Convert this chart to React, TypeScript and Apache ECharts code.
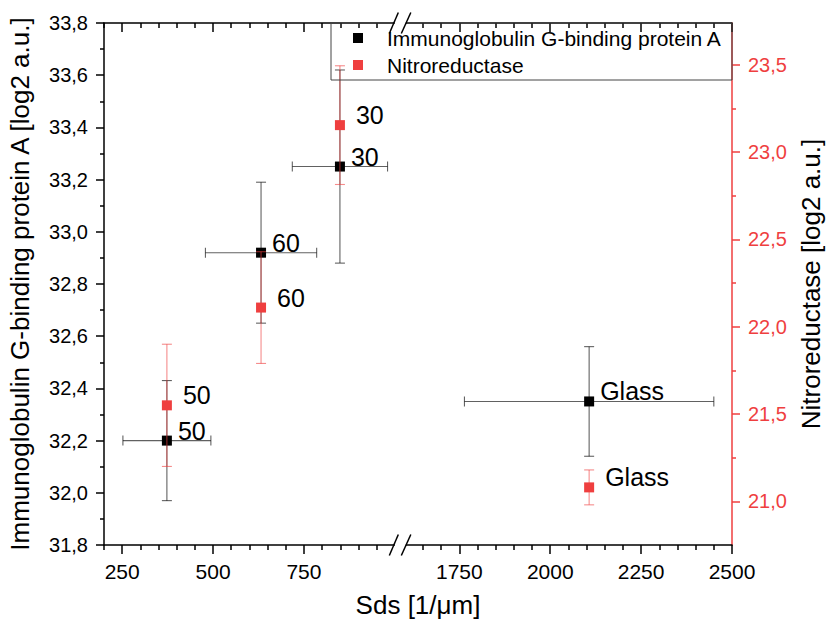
import React, { useEffect, useRef } from 'react';
import * as echarts from 'echarts';

// ---- axis break on x (Sds) ----
const BREAK_START = 1000;
const BREAK_END = 1600;
const BREAK_GAP = 27.5;

// ---- data ----
const sampleLabels = ['50', '60', '30', 'Glass'];
const sds = [373, 632, 849, 2107];
const sdsErr = [121, 153, 131, 343];
const iggValues = [32.2, 32.92, 33.25, 32.35];
const iggErr = [0.23, 0.27, 0.37, 0.21];
const nitroValues = [21.55, 22.11, 23.155, 21.08];
const nitroErr = [0.35, 0.32, 0.34, 0.1];

// ---- ticks ----
const xMajorTicks = [250, 500, 750, 1750, 2000, 2250, 2500];
const xMinorTicks = [200, 300, 350, 400, 450, 550, 600, 650, 700, 800, 850, 900, 950, 1650, 1700, 1800, 1850, 1900, 1950, 2050, 2100, 2150, 2200, 2300, 2350, 2400, 2450];
const leftMajorTicks = [31.8, 32.0, 32.2, 32.4, 32.6, 32.8, 33.0, 33.2, 33.4, 33.6, 33.8];
const leftMinorTicks = [31.9, 32.1, 32.3, 32.5, 32.7, 32.9, 33.1, 33.3, 33.5, 33.7];
const rightMajorTicks = [21.0, 21.5, 22.0, 22.5, 23.0, 23.5];
const rightMinorTicks = [21.25, 21.75, 22.25, 22.75, 23.25];

const SERIES_A = 'Immunoglobulin G-binding protein A';
const SERIES_B = 'Nitroreductase';
const RED = '#EF3F3F';
const FONT = 'Liberation Sans, Arial, sans-serif';

const tx = (v: number) => (v <= BREAK_START ? v : v - (BREAK_END - BREAK_START) + BREAK_GAP);
const inv = (t: number) => (t <= BREAK_START + BREAK_GAP / 2 ? t : t + (BREAK_END - BREAK_START) - BREAK_GAP);

const X_MIN = 200;
const X_MAX = tx(2500);
const fmtComma = (v: number) => v.toFixed(1).replace('.', ',');

function makeErrRender(withX: boolean, color: string) {
  return (params: any, api: any) => {
    const x = api.value(0);
    const y = api.value(1);
    const xlo = api.value(2);
    const xhi = api.value(3);
    const ylo = api.value(4);
    const yhi = api.value(5);
    const pLo = api.coord([x, ylo]);
    const pHi = api.coord([x, yhi]);
    const style = { stroke: color, lineWidth: 1.1 };
    const cap = 5;
    const children: any[] = [
      { type: 'line', shape: { x1: pLo[0], y1: pLo[1], x2: pHi[0], y2: pHi[1] }, style },
      { type: 'line', shape: { x1: pLo[0] - cap, y1: pLo[1], x2: pLo[0] + cap, y2: pLo[1] }, style },
      { type: 'line', shape: { x1: pHi[0] - cap, y1: pHi[1], x2: pHi[0] + cap, y2: pHi[1] }, style },
    ];
    if (withX) {
      const qLo = api.coord([xlo, y]);
      const qHi = api.coord([xhi, y]);
      children.push(
        { type: 'line', shape: { x1: qLo[0], y1: qLo[1], x2: qHi[0], y2: qHi[1] }, style },
        { type: 'line', shape: { x1: qLo[0], y1: qLo[1] - cap, x2: qLo[0], y2: qLo[1] + cap }, style },
        { type: 'line', shape: { x1: qHi[0], y1: qHi[1] - cap, x2: qHi[0], y2: qHi[1] + cap }, style },
      );
    }
    return { type: 'group', children };
  };
}

export default function App() {
  const ref = useRef<HTMLDivElement>(null);

  useEffect(() => {
    if (!ref.current) return;
    const chart = echarts.init(ref.current, undefined, { renderer: 'svg' });

    const blackPts = sds.map((s, i) => ({ name: sampleLabels[i], value: [tx(s), iggValues[i]] }));
    const redPts = sds.map((s, i) => ({ name: sampleLabels[i], value: [tx(s), nitroValues[i]] }));
    const blackErr = sds.map((s, i) => [tx(s), iggValues[i], tx(s - sdsErr[i]), tx(s + sdsErr[i]), iggValues[i] - iggErr[i], iggValues[i] + iggErr[i]]);
    const redErr = sds.map((s, i) => [tx(s), nitroValues[i], tx(s), tx(s), nitroValues[i] - nitroErr[i], nitroValues[i] + nitroErr[i]]);

    const axisBlack = { color: '#000', width: 1.5 };
    const axisRed = { color: RED, width: 1.5 };

    const baseX = { type: 'value', min: X_MIN, max: X_MAX, splitLine: { show: false } };
    const baseL = { type: 'value', min: 31.8, max: 33.8, splitLine: { show: false } };
    const baseR = { type: 'value', min: 20.75, max: 23.74, splitLine: { show: false } };

    const option: any = {
      animation: false,
      backgroundColor: '#fff',
      grid: { left: 104, right: 96, top: 23, bottom: 85, containLabel: false, outerBoundsMode: 'none' },
      legend: {
        data: [SERIES_A, SERIES_B],
        orient: 'vertical',
        left: 353,
        top: 23,
        padding: [3, 0, 3, 0],
        itemWidth: 10,
        itemHeight: 10,
        itemGap: 3,
        icon: 'rect',
        selectedMode: false,
        textStyle: { fontSize: 21, lineHeight: 24, color: '#000', fontFamily: FONT, padding: [0, 0, 0, 19] },
      },
      xAxis: [
        {
          ...baseX,
          position: 'bottom',
          axisLine: { lineStyle: axisBlack },
          axisTick: { customValues: xMajorTicks.map(tx), length: 9, lineStyle: axisBlack },
          axisLabel: {
            customValues: xMajorTicks.map(tx),
            formatter: (v: number) => String(Math.round(inv(v))),
            fontSize: 21, color: '#000', margin: 16, fontFamily: FONT,
          },
          name: 'Sds [1/μm]',
          nameLocation: 'middle',
          nameGap: 47,
          nameTextStyle: { fontSize: 26, color: '#000', fontFamily: FONT },
        },
        {
          ...baseX,
          position: 'bottom',
          axisLine: { show: false },
          axisTick: { customValues: xMinorTicks.map(tx), length: 5, lineStyle: axisBlack },
          axisLabel: { show: false },
        },
        {
          ...baseX,
          position: 'top',
          axisLine: { lineStyle: axisBlack },
          axisTick: { customValues: xMajorTicks.map(tx), length: 9, inside: true, lineStyle: axisBlack },
          axisLabel: { show: false },
        },
        {
          ...baseX,
          position: 'top',
          axisLine: { show: false },
          axisTick: { customValues: xMinorTicks.map(tx), length: 5, inside: true, lineStyle: axisBlack },
          axisLabel: { show: false },
        },
      ],
      yAxis: [
        {
          ...baseL,
          position: 'left',
          axisLine: { show: true, lineStyle: axisBlack },
          axisTick: { show: true, customValues: leftMajorTicks, length: 8, lineStyle: axisBlack },
          axisLabel: { customValues: leftMajorTicks, formatter: fmtComma, fontSize: 20, color: '#000', margin: 16, fontFamily: FONT },
          name: 'Immunoglobulin G-binding protein A [log2 a.u.]',
          nameLocation: 'middle',
          nameRotate: 90,
          nameGap: 71,
          nameTextStyle: { fontSize: 26, color: '#000', fontFamily: FONT },
        },
        {
          ...baseL,
          position: 'left',
          axisLine: { show: false },
          axisTick: { show: true, customValues: leftMinorTicks, length: 4, lineStyle: axisBlack },
          axisLabel: { show: false },
        },
        {
          ...baseR,
          position: 'right',
          axisLine: { show: true, lineStyle: axisRed },
          axisTick: { show: true, customValues: rightMajorTicks, length: 8, lineStyle: axisRed },
          axisLabel: { customValues: rightMajorTicks, formatter: fmtComma, fontSize: 20, color: RED, margin: 16, fontFamily: FONT },
          name: 'Nitroreductase [log2 a.u.]',
          nameLocation: 'middle',
          nameRotate: 90,
          nameGap: 65,
          nameTextStyle: { fontSize: 26, color: '#000', fontFamily: FONT },
        },
        {
          ...baseR,
          position: 'right',
          axisLine: { show: false },
          axisTick: { show: true, customValues: rightMinorTicks, length: 4, lineStyle: axisRed },
          axisLabel: { show: false },
        },
      ],
      series: [
        {
          name: 'igg-err',
          type: 'custom',
          xAxisIndex: 0,
          yAxisIndex: 0,
          z: 2,
          encode: { x: 0, y: 1 },
          renderItem: makeErrRender(true, 'rgba(0,0,0,0.62)'),
          data: blackErr,
          silent: true,
        },
        {
          name: SERIES_A,
          type: 'scatter',
          xAxisIndex: 0,
          yAxisIndex: 0,
          z: 3,
          symbol: 'rect',
          symbolSize: 10,
          itemStyle: { color: '#000', opacity: 1 },
          label: {
            show: true,
            position: 'right',
            distance: 6,
            offset: [0, -10],
            formatter: (p: any) => p.name,
            fontSize: 25,
            color: '#000',
            fontFamily: FONT,
          },
          data: blackPts,
        },
        {
          name: 'nitro-err',
          type: 'custom',
          xAxisIndex: 0,
          yAxisIndex: 2,
          z: 4,
          encode: { x: 0, y: 1 },
          renderItem: makeErrRender(false, 'rgba(239,63,63,0.6)'),
          data: redErr,
          silent: true,
        },
        {
          name: SERIES_B,
          type: 'scatter',
          xAxisIndex: 0,
          yAxisIndex: 2,
          z: 5,
          symbol: 'rect',
          symbolSize: 10,
          itemStyle: { color: RED, opacity: 1 },
          label: {
            show: true,
            position: 'right',
            distance: 11,
            offset: [0, -10],
            formatter: (p: any) => p.name,
            fontSize: 25,
            color: '#000',
            fontFamily: FONT,
          },
          data: redPts,
        },
      ],
    };

    chart.setOption(option);

    // decorations: legend frame and axis-break marks
    const xb = chart.convertToPixel({ xAxisIndex: 0 }, BREAK_START + BREAK_GAP / 2) as number;
    const yTop = chart.convertToPixel({ yAxisIndex: 0 }, 33.8) as number;
    const yBot = chart.convertToPixel({ yAxisIndex: 0 }, 31.8) as number;
    const xRight = chart.convertToPixel({ xAxisIndex: 0 }, X_MAX) as number;
    const breakMark = (y: number) => [
      { type: 'rect', z: 100, shape: { x: xb - 5, y: y - 2, width: 11, height: 4 }, style: { fill: '#fff' } },
      { type: 'line', z: 101, shape: { x1: xb - 10.5, y1: y + 10.5, x2: xb - 1.5, y2: y - 10.5 }, style: { stroke: '#000', lineWidth: 1.5 } },
      { type: 'line', z: 101, shape: { x1: xb + 1.5, y1: y + 10.5, x2: xb + 11, y2: y - 10.5 }, style: { stroke: '#000', lineWidth: 1.5 } },
    ];
    chart.setOption({
      graphic: [
        {
          type: 'rect',
          z: 50,
          shape: { x: 331, y: yTop, width: xRight - 331, height: 57 },
          style: { fill: 'none', stroke: '#444', lineWidth: 1 },
        },
        ...breakMark(yTop),
        ...breakMark(yBot),
      ],
    });

    return () => chart.dispose();
  }, []);

  return <div ref={ref} style={{ position: 'absolute', left: 0, top: 0, width: 828, height: 630 }} />;
}
